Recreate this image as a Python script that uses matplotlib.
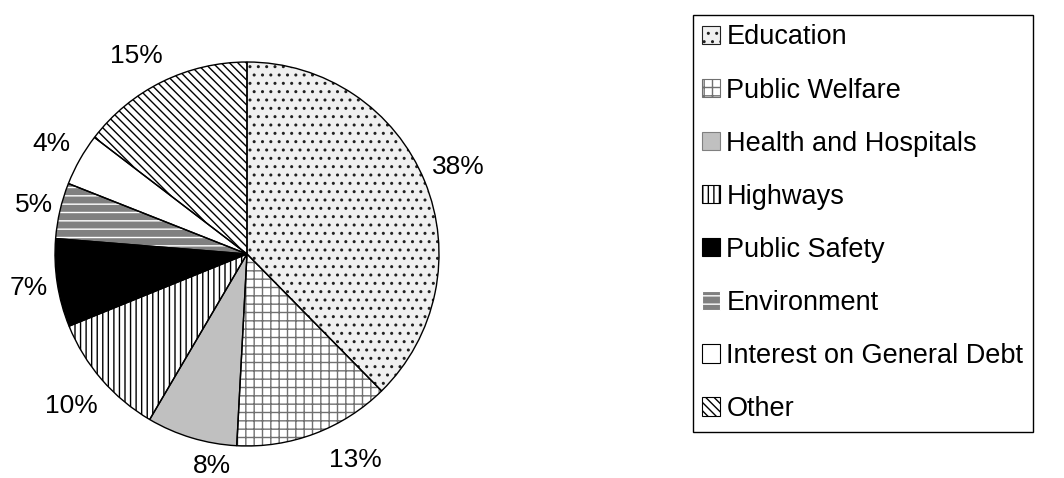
import matplotlib
matplotlib.use("Agg")
import numpy as np
import matplotlib.pyplot as plt
import matplotlib.patches as mpatches

# 数据
categories = ["Education", "Public Welfare", "Health and Hospitals", "Highways",
              "Public Safety", "Environment", "Interest on General Debt", "Other"]
shares = [37.6, 13.2, 7.6, 10.4, 7.4, 4.7, 4.4, 14.6]

# 样式
face_colors = ["#f0f0f0", "white", "#c0c0c0", "white", "black", "#808080", "white", "white"]
hatch_colors = ["#202020", "#707070", "#c0c0c0", "black", "black", "white", "black", "black"]
hatches = ["..", "++", None, "|||", None, "--", None, "\\\\\\\\"]
# 标签位置微调（类似 Excel 的 best fit）
label_radius = [1.19, 1.21, 1.12, 1.21, 1.15, 1.14, 1.17, 1.18]
label_shift = [0, 7, 7.5, 0, 0, 0, 0, 3]

plt.rcParams['font.family'] = ['Liberation Sans', 'DejaVu Sans']
plt.rcParams['hatch.linewidth'] = 1.0

fig = plt.figure(figsize=(10.64, 4.78), dpi=100)
cx, cy, r = 247, 254, 192
ax = fig.add_axes([(cx - r) / 1064, (478 - cy - r) / 478, 2 * r / 1064, 2 * r / 478])

wedges, texts, autotexts = ax.pie(shares, startangle=90, counterclock=False,
                                  colors=face_colors, autopct='%.0f%%', pctdistance=1.2,
                                  wedgeprops=dict(linewidth=0),
                                  textprops=dict(fontsize=19))
for w, h, hc in zip(wedges, hatches, hatch_colors):
    w.set_edgecolor(hc)
    if h:
        w.set_hatch(h)

for w, t, rr, sh in zip(wedges, autotexts, label_radius, label_shift):
    ang = np.deg2rad((w.theta1 + w.theta2) / 2 + sh)
    t.set_position((rr * np.cos(ang), rr * np.sin(ang)))

# 黑色外框
ax.pie(shares, startangle=90, counterclock=False,
       wedgeprops=dict(fill=False, edgecolor='black', linewidth=1.0))
ax.set_xlim(-1, 1)
ax.set_ylim(-1, 1)
ax.set_aspect('equal')

handles = []
for fc, h, hc in zip(face_colors, hatches, hatch_colors):
    ec = hc if fc != "white" or h else "black"
    if fc == "#c0c0c0":
        ec = "#808080"
    handles.append(mpatches.Patch(facecolor=fc, hatch=h, edgecolor=ec, linewidth=0.8))

leg = fig.legend(handles, categories, loc='upper left',
                 bbox_to_anchor=(693 / 1064, 1 - 15 / 478), bbox_transform=fig.transFigure,
                 borderaxespad=0, fontsize=19.5, fancybox=False, framealpha=1,
                 edgecolor='black', handlelength=0.66, handleheight=0.66,
                 handletextpad=0.22, labelspacing=1.0, borderpad=0.35)
leg.get_frame().set_linewidth(1.0)

fig.savefig("out.png", dpi=100)
